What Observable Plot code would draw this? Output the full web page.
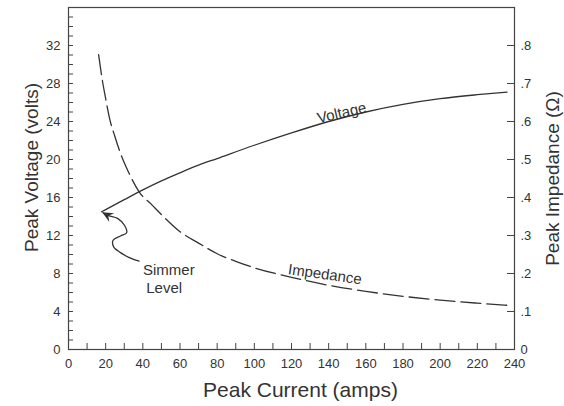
<!DOCTYPE html>
<html><head><meta charset="utf-8">
<script src="https://cdn.jsdelivr.net/npm/d3@7"></script>
<script src="https://cdn.jsdelivr.net/npm/@observablehq/plot@0.6"></script>
<style>body{margin:0;background:#fff} svg{display:block}</style>
</head><body><div id="chart"></div>
<script>
// Data
const voltageCurrent = [17.8, 20, 30, 40, 50, 60, 70, 80, 100, 120, 140, 160, 180, 200, 220, 236];
const voltageValues  = [14.5, 14.73, 15.77, 16.8, 17.75, 18.6, 19.4, 20.1, 21.5, 22.8, 24.0, 25.0, 25.8, 26.4, 26.82, 27.1];
const impedanceCurrent = [16.2, 18, 20, 22, 25, 28, 32, 38, 45, 50, 60, 70, 80, 90, 100, 120, 140, 160, 180, 200, 220, 237];
const impedanceValues  = [0.776, 0.715, 0.66, 0.61, 0.56, 0.516, 0.47, 0.415, 0.38, 0.355, 0.31, 0.28, 0.252, 0.232, 0.215, 0.19, 0.169, 0.153, 0.14, 0.13, 0.122, 0.116];
// "Simmer Level" annotation arrow path (amps, volts), tail to tip
const simmerPathX = [38.0, 32.4, 28.0, 24.3, 24.0, 28.0, 31.3, 30.2, 26.4, 21.6, 18.6];
const simmerPathY = [9.3, 9.7, 10.2, 10.8, 11.5, 11.95, 12.3, 13.05, 13.8, 14.1, 14.4];
const xTickLabels = [0, 20, 40, 60, 80, 100, 120, 140, 160, 180, 200, 220, 240];
const xMinorTicks = d3.range(10, 240, 10);
const yTickLabels = [0, 4, 8, 12, 16, 20, 24, 28, 32];
const yMinorTicks = d3.range(1, 36, 1);
const zTickLabels = [0, 0.1, 0.2, 0.3, 0.4, 0.5, 0.6, 0.7, 0.8];
const zToVolts = 40; // right axis: .8 ohm aligns with 32 volts
const annotations = [
  {label: "Voltage", x: 147, y: 24.9, rotate: -13},
  {label: "Impedance", x: 138, y: 7.9, rotate: 8},
  {label: "Simmer", x: 54, y: 8.3, rotate: 0},
  {label: "Level", x: 51.5, y: 6.5, rotate: 0}
];
const titles = [
  {label: "Peak Current (amps)", anchor: "bottom", rotate: 0, dx: 9, dy: 41, size: 21},
  {label: "Peak Voltage (volts)", anchor: "left", rotate: -90, dx: -37, dy: -11, size: 19},
  {label: "Peak Impedance (Ω)", anchor: "right", rotate: -90, dx: 38, dy: 0, size: 19}
];

const voltage = voltageCurrent.map((c, i) => ({c, v: voltageValues[i]}));
const impedance = impedanceCurrent.map((c, i) => ({c, v: impedanceValues[i] * zToVolts}));
const simmer = simmerPathX.map((c, i) => ({c, v: simmerPathY[i]}));

const ink = "#333";
function filledArrow() {
  const m = d3.create("svg:marker")
    .attr("viewBox", "-7 -6 12 12")
    .attr("markerWidth", 12).attr("markerHeight", 12)
    .attr("markerUnits", "userSpaceOnUse")
    .attr("orient", "auto").attr("refX", 3).attr("refY", 0);
  m.append("path").attr("d", "M-7,-5L4,0L-7,5L-3,0Z").attr("fill", ink).attr("stroke", "none");
  return m.node();
}

const chart = Plot.plot({
  width: 564, height: 406,
  marginLeft: 68, marginRight: 50, marginTop: 7, marginBottom: 57,
  style: {fontFamily: "Liberation Sans, Arial, sans-serif", fontSize: "13px", color: ink, background: "#fff"},
  x: {domain: [0, 240]},
  y: {domain: [0, 36]},
  marks: [
    Plot.frame({stroke: "#444", strokeWidth: 1.2}),
    Plot.axisX({ticks: xMinorTicks, tickSize: -6, tickFormat: () => "", label: null, stroke: "#444"}),
    Plot.axisX({ticks: xTickLabels, tickSize: 0, tickPadding: 9, tickFormat: d => String(d), label: null, fill: ink}),
    Plot.axisY({ticks: yMinorTicks, tickSize: -5, tickFormat: () => "", label: null, stroke: "#444"}),
    Plot.axisY({ticks: yTickLabels, tickSize: 0, tickPadding: 8, tickFormat: d => String(d), label: null, fill: ink}),
    Plot.axisY({anchor: "right", ticks: zTickLabels.map(z => z * zToVolts), tickSize: -8, tickPadding: 14,
      tickFormat: d => { const z = d / zToVolts; return z === 0 ? "0" : "." + Math.round(z * 10); },
      label: null, stroke: "#444", fill: ink}),
    Plot.line(voltage, {x: "c", y: "v", curve: "monotone-x", stroke: ink, strokeWidth: 1.3}),
    Plot.line(impedance, {x: "c", y: "v", curve: "monotone-x", stroke: ink, strokeWidth: 1.3, strokeDasharray: "20,6"}),
    Plot.line(simmer, {x: "c", y: "v", curve: "catmull-rom", stroke: ink, strokeWidth: 1.3, markerEnd: filledArrow}),
    Plot.text(annotations, {x: "x", y: "y", text: "label", rotate: "rotate", fontSize: 15, fill: ink}),
    ...titles.map(t => Plot.text([t.label], {frameAnchor: t.anchor, rotate: t.rotate, dx: t.dx, dy: t.dy,
      fontSize: t.size, fill: ink, textAnchor: "middle", lineAnchor: "middle"}))
  ]
});
document.getElementById("chart").append(chart);
</script>
</body></html>
